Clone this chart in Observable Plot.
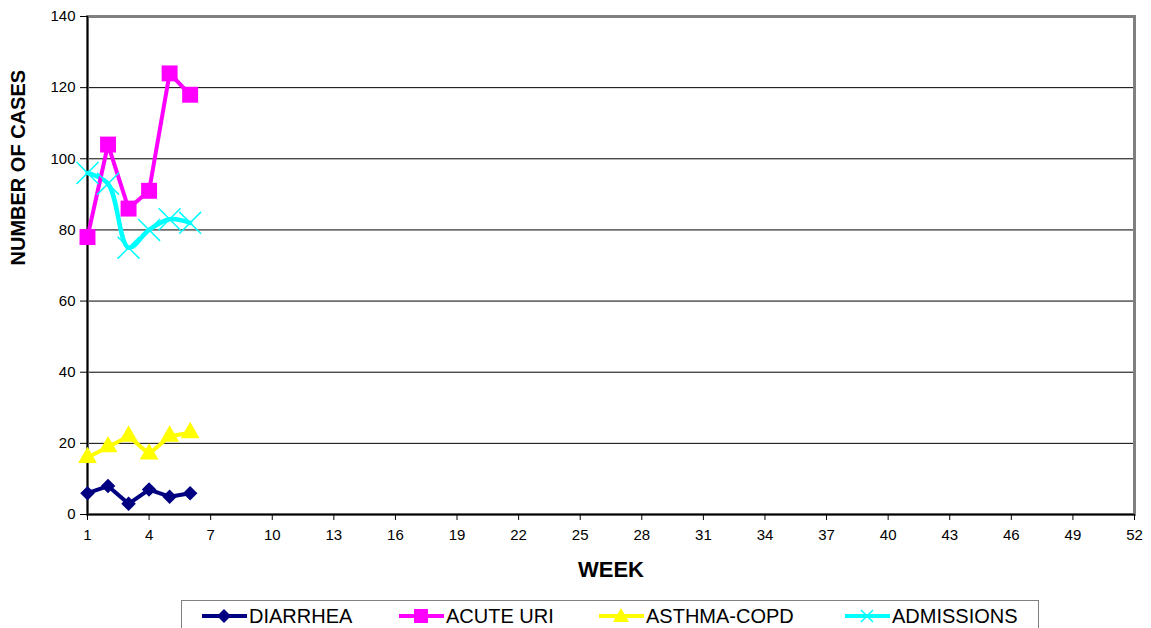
<!DOCTYPE html>
<html>
<head>
<meta charset="utf-8">
<script src="https://cdn.jsdelivr.net/npm/d3@7"></script>
<script src="https://cdn.jsdelivr.net/npm/@observablehq/plot@0.6"></script>
<style>
  html, body { margin: 0; padding: 0; background: #fff; overflow: hidden; }
  #wrap { position: relative; width: 1151px; height: 628px; font-family: "Liberation Sans", Arial, sans-serif; }
  #legend { position: absolute; left: 181px; top: 600px; width: 858px; height: 40px; border: 1px solid #808080; box-sizing: border-box; background: #fff; }
  .item { position: absolute; top: 2px; height: 26px; display: flex; align-items: center; }
  .item span { font-size: 20px; color: #000; margin-left: 2px; }
</style>
</head>
<body>
<div id="wrap">
  <div id="chart"></div>
  <div id="legend"></div>
</div>
<script>
const weeks = [1, 2, 3, 4, 5, 6];
const diarrhea = [6, 8, 3, 7, 5, 6];
const acuteUri = [78, 104, 86, 91, 124, 118];
const asthmaCopd = [16, 19, 22, 17, 22, 23];
const admissions = [96, 93, 75, 80, 83, 82];
const seriesNames = ["DIARRHEA", "ACUTE URI", "ASTHMA-COPD", "ADMISSIONS"];
const seriesColors = ["#000080", "#FF00FF", "#FFFF00", "#00FFFF"];
const xTicks = [1, 4, 7, 10, 13, 16, 19, 22, 25, 28, 31, 34, 37, 40, 43, 46, 49, 52];
const yTicks = [0, 20, 40, 60, 80, 100, 120, 140];
const gridTicks = [20, 40, 60, 80, 100, 120];

const mk = (vals) => weeks.map((w, i) => ({week: w, value: vals[i]}));
const dDiar = mk(diarrhea), dUri = mk(acuteUri), dAst = mk(asthmaCopd), dAdm = mk(admissions);

const chart = Plot.plot({
  width: 1151,
  height: 600,
  marginLeft: 87,
  marginRight: 17,
  marginTop: 16,
  marginBottom: 86,
  style: {fontFamily: "Liberation Sans, Arial, sans-serif", fontSize: "15px", color: "#000", background: "#fff"},
  x: {domain: [1, 52], type: "linear"},
  y: {domain: [0, 140]},
  marks: [
    Plot.ruleY(gridTicks, {stroke: "#000", strokeWidth: 1}),
    Plot.frame({stroke: "#808080", strokeWidth: 3}),
    Plot.ruleX([1], {stroke: "#000", strokeWidth: 1.5}),
    Plot.ruleY([0], {stroke: "#000", strokeWidth: 1.5}),
    Plot.axisY({ticks: yTicks, tickSize: 7, tickPadding: 5, fontSize: 15, label: null, stroke: "#000"}),
    Plot.axisX({ticks: xTicks, tickSize: 6, tickPadding: 9, fontSize: 15, label: null, stroke: "#000", tickFormat: d => String(d)}),
    Plot.text(["WEEK"], {frameAnchor: "bottom", dy: 62, fontSize: 22, fontWeight: "bold", fill: "#000"}),
    Plot.text(["NUMBER OF CASES"], {frameAnchor: "left", dx: -69, rotate: -90, fontSize: 20, fontWeight: "bold", fill: "#000"}),
    // lines
    Plot.line(dDiar, {x: "week", y: "value", stroke: seriesColors[0], strokeWidth: 4}),
    Plot.line(dAst, {x: "week", y: "value", stroke: seriesColors[2], strokeWidth: 4}),
    Plot.line(dAdm, {x: "week", y: "value", stroke: seriesColors[3], strokeWidth: 4.5, curve: "catmull-rom"}),
    Plot.line(dUri, {x: "week", y: "value", stroke: seriesColors[1], strokeWidth: 4}),
    // markers
    Plot.dot(dDiar, {x: "week", y: "value", symbol: "square", rotate: 45, fill: seriesColors[0], r: 5.8}),
    Plot.dot(dAst, {x: "week", y: "value", symbol: "triangle", fill: seriesColors[2], r: 7}),
    Plot.dot(dAdm, {x: "week", y: "value", symbol: "times", stroke: seriesColors[3], strokeWidth: 1.5, r: 10}),
    Plot.dot(dUri, {x: "week", y: "value", symbol: "square", fill: seriesColors[1], r: 9})
  ]
});
document.getElementById("chart").appendChild(chart);

// Legend
const legend = document.getElementById("legend");
const itemLefts = [20, 217, 417, 663];
const markerSvg = [
  '<polygon points="22,6 29,13 22,20 15,13" fill="#000080"/>',
  '<rect x="15" y="6" width="14" height="14" fill="#FF00FF"/>',
  '<polygon points="22,5 30,19 14,19" fill="#FFFF00"/>',
  '<path d="M16,7 L28,19 M28,7 L16,19" stroke="#00FFFF" stroke-width="1.5"/>'
];
seriesNames.forEach((name, i) => {
  const div = document.createElement("div");
  div.className = "item";
  div.style.left = itemLefts[i] + "px";
  div.innerHTML = `<svg width="45" height="26"><line x1="0" y1="13" x2="45" y2="13" stroke="${seriesColors[i]}" stroke-width="4"/>${markerSvg[i]}</svg><span>${name}</span>`;
  legend.appendChild(div);
});
</script>
</body>
</html>
